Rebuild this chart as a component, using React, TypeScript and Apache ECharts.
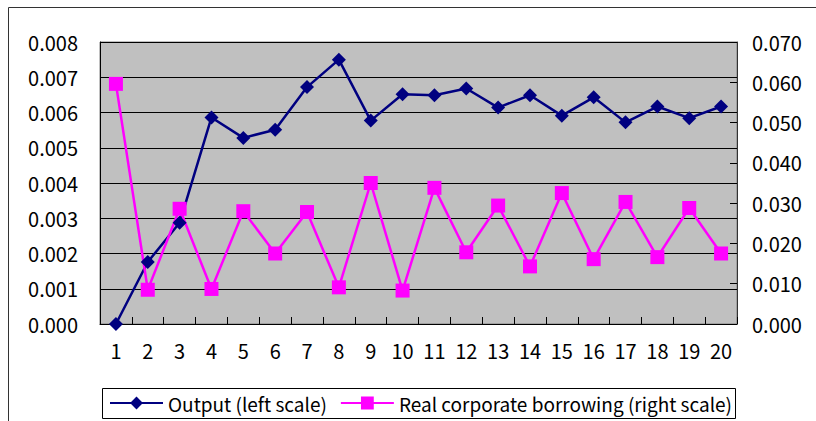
import React, { useEffect, useRef } from "react";
import * as echarts from "echarts";

const categories = ["1","2","3","4","5","6","7","8","9","10","11","12","13","14","15","16","17","18","19","20"];
const outputValues = [0.0, 0.00176, 0.00287, 0.00586, 0.00528, 0.00551, 0.00672, 0.0075, 0.00577, 0.00652, 0.00649, 0.00668, 0.00614, 0.00649, 0.00591, 0.00643, 0.00572, 0.00617, 0.00584, 0.00617];
const borrowingValues = [0.0596, 0.0085, 0.0286, 0.0087, 0.028, 0.0175, 0.0278, 0.0091, 0.035, 0.0083, 0.0338, 0.0178, 0.0294, 0.0143, 0.0325, 0.0161, 0.0303, 0.0166, 0.0288, 0.0175];
const seriesNames = ["Output (left scale)", "Real corporate borrowing (right scale)"];

const FONT = "'Noto Sans CJK JP', 'Noto Sans', sans-serif";

export default function App() {
  const ref = useRef<HTMLDivElement>(null);
  useEffect(() => {
    if (!ref.current) return;
    const chart = echarts.init(ref.current, null, { renderer: "svg" });
    chart.setOption({
      animation: false,
      backgroundColor: "#ffffff",
      textStyle: { fontFamily: FONT },
      graphic: [
        {
          type: "rect",
          shape: { x: 8.5, y: 7.5, width: 830, height: 500 },
          style: { fill: "none", stroke: "#333", lineWidth: 1 },
          silent: true,
        },
        {
          type: "rect",
          shape: { x: 102.5, y: 388.5, width: 633, height: 30 },
          style: { fill: "#fff", stroke: "#000", lineWidth: 1 },
          z: -1,
          silent: true,
        },
      ],
      grid: {
        left: 100,
        right: 79,
        top: 42,
        bottom: 97,
        show: true,
        backgroundColor: "#C0C0C0",
        borderColor: "#808080",
        borderWidth: 1,
      },
      legend: {
        left: 109,
        top: 393,
        padding: 0,
        itemWidth: 53,
        itemHeight: 16,
        itemGap: 13,
        data: seriesNames,
        textStyle: { fontFamily: FONT, fontSize: 19, color: "#000", lineHeight: 20 },
      },
      xAxis: {
        type: "category",
        data: categories,
        boundaryGap: true,
        axisLine: { show: true, lineStyle: { color: "#000", width: 1 } },
        axisTick: { show: true, inside: true, length: 7, lineStyle: { color: "#000" } },
        axisLabel: { color: "#000", fontSize: 20, fontFamily: FONT, margin: 16, interval: 0 },
        splitLine: { show: false },
      },
      yAxis: [
        {
          type: "value",
          min: 0,
          max: 0.008,
          interval: 0.001,
          position: "left",
          axisLine: { show: true, lineStyle: { color: "#000", width: 1 } },
          axisTick: { show: true, inside: true, length: 6, lineStyle: { color: "#000" } },
          axisLabel: {
            color: "#000",
            fontSize: 20,
            fontFamily: FONT,
            margin: 22,
            formatter: (v: number) => v.toFixed(3),
          },
          splitLine: { show: true, lineStyle: { color: "#000", width: 1 } },
        },
        {
          type: "value",
          min: 0,
          max: 0.07,
          interval: 0.01,
          position: "right",
          axisLine: { show: true, lineStyle: { color: "#333", width: 1 } },
          axisTick: { show: true, inside: true, length: 7, lineStyle: { color: "#000" } },
          axisLabel: {
            color: "#000",
            fontSize: 20,
            fontFamily: FONT,
            margin: 15,
            formatter: (v: number) => v.toFixed(3),
          },
          splitLine: { show: false },
        },
      ],
      series: [
        {
          name: seriesNames[0],
          type: "line",
          yAxisIndex: 0,
          data: outputValues,
          symbol: "diamond",
          symbolSize: 14,
          color: "#000080",
          lineStyle: { color: "#000080", width: 2.5 },
          itemStyle: { color: "#000080" },
        },
        {
          name: seriesNames[1],
          type: "line",
          yAxisIndex: 1,
          data: borrowingValues,
          symbol: "rect",
          symbolSize: 14,
          color: "#FF00FF",
          lineStyle: { color: "#FF00FF", width: 2.5 },
          itemStyle: { color: "#FF00FF" },
        },
      ],
    });
    return () => chart.dispose();
  }, []);
  return (
    <div
      ref={ref}
      style={{ position: "fixed", left: 0, top: 0, width: 816, height: 421 }}
    />
  );
}
